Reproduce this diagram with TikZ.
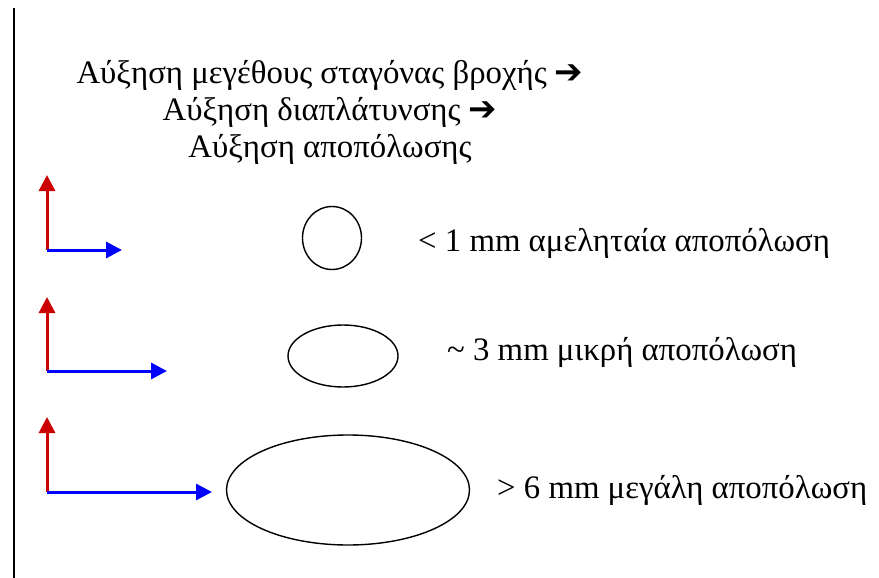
\documentclass[tikz,border=0pt]{standalone}
\usepackage{fontspec}
\setmainfont{Liberation Serif}
\newfontfamily\arrowfont{DejaVu Sans}
\usetikzlibrary{arrows.meta,shapes.geometric}
\definecolor{vred}{RGB}{204,0,0}
\definecolor{hblue}{RGB}{0,0,255}
\newcommand{\thenarrow}{{\arrowfont\fontsize{34}{34}\selectfont ➔}}

\begin{document}
\begin{tikzpicture}[x=1pt, y=-1pt, >={Triangle[length=16pt,width=16pt]},
    drop/.style={draw, ellipse, line width=1.4pt, inner sep=0pt},
    caption/.style={anchor=west, inner sep=0pt, font=\fontsize{32.8}{37}\selectfont},
    up/.style={->, line width=3pt, vred},
    side/.style={->, line width=3pt, hblue}]
    \useasboundingbox (0,0) rectangle (879,578);
    % left border line
    \draw[line width=2pt] (14,8) -- (14,578);
    % heading
    \node[align=center, font=\fontsize{32.8}{37}\selectfont] (title) at (330,112)
        {Αύξηση μεγέθους σταγόνας βροχής \thenarrow\\
         Αύξηση διαπλάτυνσης \thenarrow\\
         Αύξηση αποπόλωσης};
    % drops
    \node[drop, minimum width=59pt, minimum height=63pt] (small) at (332,238) {};
    \node[drop, minimum width=110pt, minimum height=62pt] (mid) at (343,356) {};
    \node[drop, minimum width=243pt, minimum height=110pt] (big) at (348,490) {};
    \node[caption] (smalltxt) at (418,243) {< 1 mm αμεληταία αποπόλωση};
    \node[caption] (midtxt) at (447,352) {\textasciitilde{} 3 mm μικρή αποπόλωση};
    \node[caption] (bigtxt) at (497,490) {> 6 mm μεγάλη αποπόλωση};
    % axes
    \coordinate (o1) at (47,250);
    \coordinate (o2) at (47,371);
    \coordinate (o3) at (47,492);
    \draw[up] (o1) -- ++(0,-75);
    \draw[side] (o1) -- ++(75,0);
    \draw[up] (o2) -- ++(0,-74);
    \draw[side] (o2) -- ++(120,0);
    \draw[up] (o3) -- ++(0,-75);
    \draw[side] (o3) -- ++(165,0);
\end{tikzpicture}
\end{document}
